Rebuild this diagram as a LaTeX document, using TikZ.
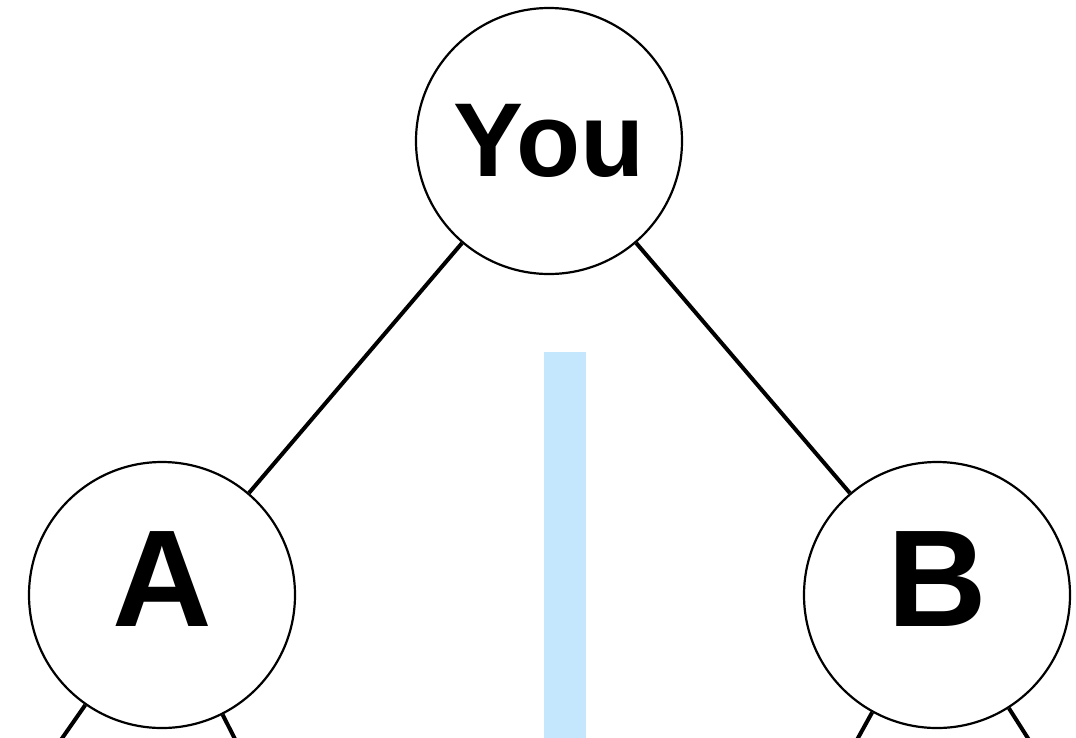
\documentclass[tikz,border=0pt]{standalone}
\usepackage{fontspec}
\setmainfont{Liberation Sans}
\usetikzlibrary{positioning}
\definecolor{barblue}{RGB}{196,231,253}
\tikzset{
  person/.style = {
    circle, draw, line width=2.2pt, fill=white, minimum size=266pt, inner sep=0pt,
    font=\bfseries\fontsize{105}{105}\selectfont
  },
  leaf/.style = {
    person, font=\bfseries\fontsize{138}{138}\selectfont, text depth=32pt
  },
  edge/.style = {line width=4pt},
}
\begin{document}
\begin{tikzpicture}[x=1pt, y=-1pt]
    \useasboundingbox (0,0) rectangle (1076,737);
    \clip (0,0) rectangle (1076,737);

    % divider bar
    \fill[barblue] (544,352) rectangle (586,740);

    % nodes
    \node[person] (you) at (549,141) {You};
    \node[leaf] (a) at (162,595) {A};
    \node[leaf] (b) at (937,595) {B};

    % free ends below the picture
    \coordinate (a1) at (19,800);
    \coordinate (a2) at (275,818);
    \coordinate (b1) at (816,814);
    \coordinate (b2) at (1071,806);

    % edges
    \draw[edge] (you) -- (a);
    \draw[edge] (you) -- (b);
    \draw[edge] (a) -- (a1);
    \draw[edge] (a) -- (a2);
    \draw[edge] (b) -- (b1);
    \draw[edge] (b) -- (b2);
\end{tikzpicture}
\end{document}
